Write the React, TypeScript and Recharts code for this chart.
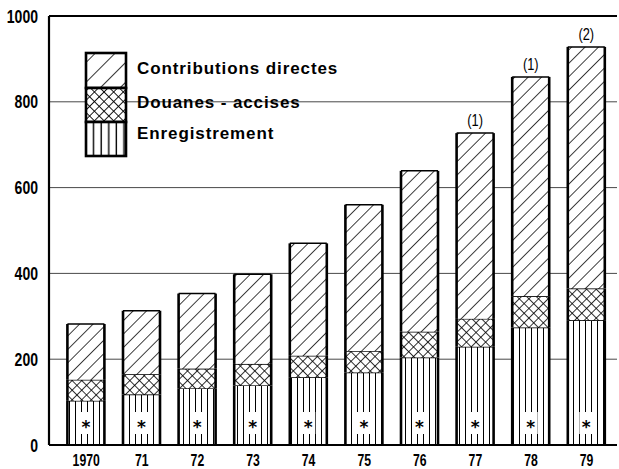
import React from 'react';
import { BarChart, Bar, XAxis, YAxis, CartesianGrid, ReferenceLine, Legend, LabelList } from 'recharts';

const years = ['1970', '71', '72', '73', '74', '75', '76', '77', '78', '79'];
const enregistrement = [103, 118, 132, 139, 158, 169, 204, 229, 274, 291];
const douanesAccises = [49, 47, 46, 50, 50, 50, 60, 65, 73, 74];
const contributionsDirectes = [130, 148, 175, 209, 262, 341, 375, 433, 511, 563];
const notes = ['', '', '', '', '', '', '', '(1)', '(1)', '(2)'];
const yTicks = [0, 200, 400, 600, 800, 1000];
const legendOrder = ['contributions', 'douanes', 'enregistrement'];

const seriesNames: Record<string, string> = {
  contributions: 'Contributions directes',
  douanes: 'Douanes - accises',
  enregistrement: 'Enregistrement',
};

const data = years.map((year, i) => ({
  year,
  enregistrement: enregistrement[i],
  douanes: douanesAccises[i],
  contributions: contributionsDirectes[i],
  note: notes[i],
}));

const sans = "'Liberation Sans', Arial, sans-serif";

const makeShape = (patternId: string) => (props: any) => {
  const { x, y, width, height } = props;
  if (!height || height <= 0) return <g />;
  return (
    <g>
      <rect x={x} y={y} width={width} height={height} fill={`url(#${patternId})`} />
      <line x1={x} x2={x + width} y1={y} y2={y} stroke="#000" strokeWidth={1.5} />
      <line x1={x} x2={x} y1={y} y2={y + height} stroke="#000" strokeWidth={2.6} />
      <line x1={x + width} x2={x + width} y1={y} y2={y + height} stroke="#000" strokeWidth={2.6} />
    </g>
  );
};

const YTick = (props: any) => {
  const { y, payload } = props;
  return (
    <text transform={`translate(38, ${y + 6.5}) scale(0.78, 1)`} textAnchor="end" fontFamily={sans} fontWeight="bold" fontSize={18} fill="#000">
      {payload.value}
    </text>
  );
};

const XTick = (props: any) => {
  const { x, payload } = props;
  return (
    <text transform={`translate(${x}, 466) scale(0.72, 1)`} textAnchor="middle" fontFamily={sans} fontWeight="bold" fontSize={17} fill="#000">
      {payload.value}
    </text>
  );
};

const NoteLabel = (props: any) => {
  const { x, y, width, value } = props;
  if (!value) return null;
  return (
    <text transform={`translate(${x + width / 2}, ${y - 7}) scale(0.8, 1)`} textAnchor="middle" fontFamily={sans} fontSize={16} fill="#000">
      {value}
    </text>
  );
};

const StarLabel = (props: any) => {
  const { x, y, width, height } = props;
  const cx = x + width / 2;
  const bottom = y + height;
  return (
    <g>
      <rect x={cx - 7} y={bottom - 33} width={14} height={22} fill="#fff" />
      <text x={cx} y={bottom - 12} textAnchor="middle" fontFamily="'DejaVu Sans', sans-serif" fontWeight="bold" fontSize={17} fill="#000">
        *
      </text>
    </g>
  );
};

const legendPatterns: Record<string, string> = {
  contributions: 'diagL',
  douanes: 'crossL',
  enregistrement: 'vertL',
};

const LegendContent = (props: any) => {
  const items = (props.payload || []).slice().sort(
    (a: any, b: any) => legendOrder.indexOf(a.dataKey) - legendOrder.indexOf(b.dataKey)
  );
  const sections = [
    [5, 40, 25.5],
    [40, 74, 60],
    [74, 108, 90.5],
  ];
  return (
    <svg width={300} height={115} style={{ display: 'block' }}>
      {items.map((p: any, i: number) => {
        const [top, bot, base] = sections[i];
        const key = p.dataKey as string;
        return (
          <g key={key}>
            <rect x={6} y={top} width={40} height={bot - top} fill={`url(#${legendPatterns[key]})`} stroke="#000" strokeWidth={2.6} />
            <text x={57} y={base} fontFamily={sans} fontWeight="bold" fontSize={17} letterSpacing={0.9} fill="#000">
              {seriesNames[key]}
            </text>
          </g>
        );
      })}
    </svg>
  );
};

export default function App() {
  return (
    <div style={{ position: 'absolute', left: 0, top: 0, background: '#fff' }}>
      <BarChart width={619} height={469} data={data} margin={{ top: 16, right: 2, left: 0, bottom: 0 }}>
        <defs>
          <pattern id="diag" width="9.5" height="9.5" patternUnits="userSpaceOnUse" patternTransform="rotate(45)">
            <rect width="9.5" height="9.5" fill="#fff" />
            <line x1="0" y1="0" x2="0" y2="9.5" stroke="#000" strokeWidth="1.5" />
          </pattern>
          <pattern id="cross" width="6.8" height="6.8" patternUnits="userSpaceOnUse" patternTransform="rotate(45)">
            <rect width="6.8" height="6.8" fill="#fff" />
            <line x1="0" y1="0" x2="0" y2="6.8" stroke="#000" strokeWidth="1.6" />
            <line x1="0" y1="0" x2="6.8" y2="0" stroke="#000" strokeWidth="1.6" />
          </pattern>
          <pattern id="vert" width="6" height="6" patternUnits="userSpaceOnUse">
            <rect width="6" height="6" fill="#fff" />
            <line x1="3.5" y1="0" x2="3.5" y2="6" stroke="#000" strokeWidth="1" />
          </pattern>
          <pattern id="diagL" width="14" height="14" patternUnits="userSpaceOnUse" patternTransform="rotate(45)">
            <rect width="14" height="14" fill="#fff" />
            <line x1="0" y1="0" x2="0" y2="14" stroke="#000" strokeWidth="1.6" />
          </pattern>
          <pattern id="crossL" width="6.8" height="6.8" patternUnits="userSpaceOnUse" patternTransform="rotate(45)">
            <rect width="6.8" height="6.8" fill="#fff" />
            <line x1="0" y1="0" x2="0" y2="6.8" stroke="#000" strokeWidth="1.8" />
            <line x1="0" y1="0" x2="6.8" y2="0" stroke="#000" strokeWidth="1.8" />
          </pattern>
          <pattern id="vertL" width="7.6" height="7.6" patternUnits="userSpaceOnUse">
            <rect width="7.6" height="7.6" fill="#fff" />
            <line x1="6" y1="0" x2="6" y2="7.6" stroke="#000" strokeWidth="1.4" />
          </pattern>
        </defs>
        <CartesianGrid vertical={false} stroke="#333" strokeWidth={0.9} />
        <XAxis
          dataKey="year"
          height={24}
          padding={{ left: 9.4, right: 2.6 }}
          axisLine={{ stroke: '#000', strokeWidth: 2.2 }}
          tickLine={false}
          tick={<XTick />}
          interval={0}
        />
        <YAxis
          width={49}
          domain={[0, 1000]}
          ticks={yTicks}
          axisLine={{ stroke: '#000', strokeWidth: 2.2 }}
          tickLine={false}
          tick={<YTick />}
          interval={0}
        />
        <ReferenceLine y={1000} stroke="#000" strokeWidth={2.2} />
        <Legend
          layout="vertical"
          align="center"
          verticalAlign="middle"
          content={<LegendContent />}
          wrapperStyle={{ position: 'absolute', left: 80, top: 48, width: 300, height: 115 }}
        />
        <Bar dataKey="enregistrement" name={seriesNames.enregistrement} stackId="a" barSize={37} shape={makeShape('vert')} isAnimationActive={false}>
          <LabelList dataKey="enregistrement" content={<StarLabel />} />
        </Bar>
        <Bar dataKey="douanes" name={seriesNames.douanes} stackId="a" barSize={37} shape={makeShape('cross')} isAnimationActive={false} />
        <Bar dataKey="contributions" name={seriesNames.contributions} stackId="a" barSize={37} shape={makeShape('diag')} isAnimationActive={false}>
          <LabelList dataKey="note" content={<NoteLabel />} />
        </Bar>
      </BarChart>
    </div>
  );
}
